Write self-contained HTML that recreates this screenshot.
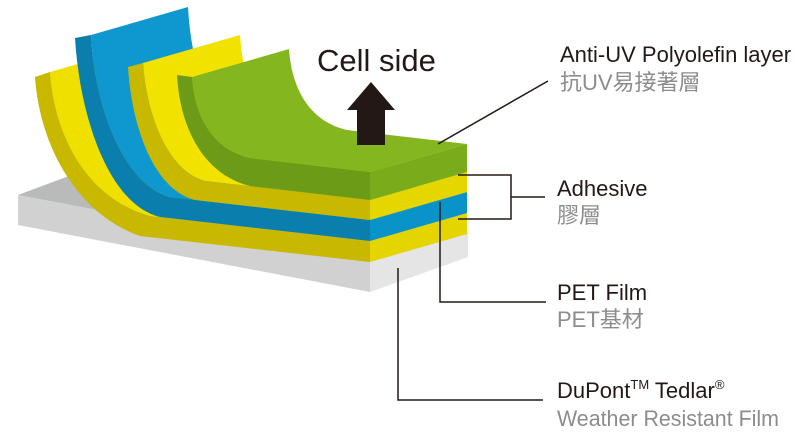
<!DOCTYPE html>
<html><head><meta charset="utf-8"><style>
html,body{margin:0;padding:0;background:#fff;}
svg{display:block}
.l{font-family:"Liberation Sans","Noto Sans CJK TC",sans-serif;font-size:22px;fill:#231815}
.g{font-family:"Liberation Sans","Noto Sans CJK TC",sans-serif;font-size:22px;fill:#8c8c8c}
</style></head><body>
<svg width="800" height="446" viewBox="0 0 800 446" xmlns="http://www.w3.org/2000/svg">
<polygon points="18,195 85,170 468,233 370,262" fill="#b9baba"/>
<polygon points="18,195 370,262 370,292 18,225" fill="#d0d1d0"/>
<polygon points="370,262 468,233 468,257 370,292" fill="#e4e5e4"/>

<path d="M50,72 C55,140 90,200 150,216 L370,241 L467,213 L247,188 C187,172 152,112 147,44 Z" fill="#f0e000"/>
<path d="M35,77 C40,150 80,215 140,236 L370,262 L370,241 L150,216 C90,200 55,140 50,72 Z" fill="#c8b900"/>
<polygon points="370,241 467,213 467,234 370,262" fill="#e4d400"/>

<path d="M91,35 C95,110 125,185 170,197 L370,220 L467,192 L267,169 C222,157 192,82 188,7 Z" fill="#0e98cf"/>
<path d="M75,38 C80,120 110,205 160,217 L370,241 L370,220 L170,197 C125,185 95,110 91,35 Z" fill="#0a7fae"/>
<polygon points="370,220 467,192 467,213 370,241" fill="#0a93c8"/>

<path d="M143,63 C147,120 170,172 205,181 L370,200 L467,172 L302,153 C267,144 244,92 240,35 Z" fill="#f2e200"/>
<path d="M128,67 C132,130 155,190 195,200 L370,220 L370,200 L205,181 C170,172 147,120 143,63 Z" fill="#c8b900"/>
<polygon points="370,200 467,172 467,192 370,220" fill="#e6d600"/>

<path d="M192,77 C195,120 215,150 250,158 L370,172 L467,144 L347,130 C312,122 292,92 289,49 Z" fill="#84b71f"/>
<path d="M177,75 C180,130 205,175 250,186 L370,200 L370,172 L250,158 C215,150 195,120 192,77 Z" fill="#6c9c17"/>
<polygon points="370,172 467,144 467,172 370,200" fill="#79ab1b"/>

<polygon points="357,145 357,110 347,110 371,82 395,110 385,110 385,145" fill="#231815"/>
<text x="317" y="71" font-family="Liberation Sans,sans-serif" font-size="31" fill="#231815">Cell side</text>

<g stroke="#231815" stroke-width="1.5" fill="none">
<line x1="438" y1="144" x2="548" y2="81"/>
<polyline points="458,175 511,175 511,219 458,219"/>
<line x1="511" y1="197" x2="545" y2="197"/>
<polyline points="440,202 440,302 546,302"/>
<polyline points="398,268 398,400 543,400"/>
</g>

<text class="l" x="560" y="62">Anti-UV Polyolefin layer</text>
<text class="g" x="560" y="90">抗UV易接著層</text>
<text class="l" x="557" y="196">Adhesive</text>
<text class="g" x="557" y="223">膠層</text>
<text class="l" x="557" y="300">PET Film</text>
<text class="g" x="557" y="327">PET基材</text>
<text class="l" x="557" y="398">DuPont<tspan font-size="13" dy="-9">TM</tspan><tspan dy="9"> Tedlar</tspan><tspan font-size="13" dy="-9">®</tspan></text>
<text class="g" x="557" y="426" textLength="222" lengthAdjust="spacingAndGlyphs">Weather Resistant Film</text>
</svg>
</body></html>
